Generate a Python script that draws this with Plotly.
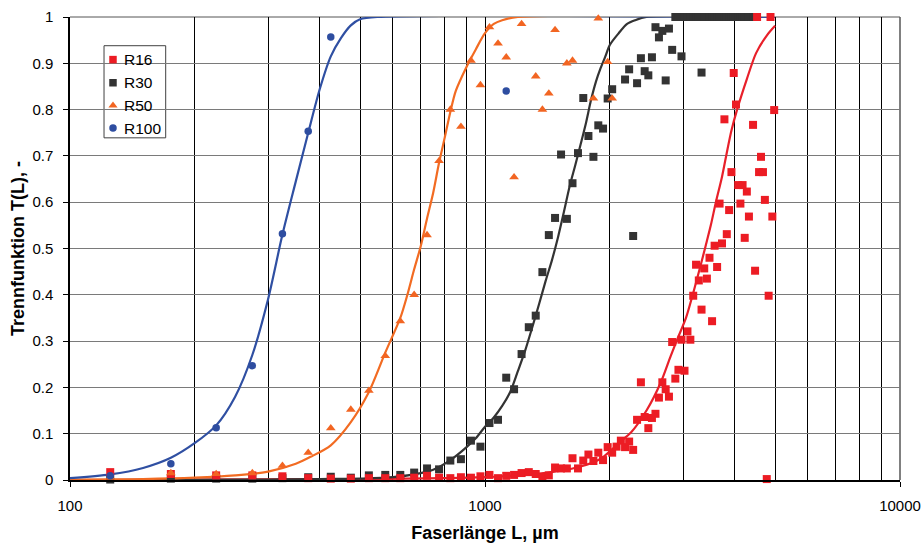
import plotly.graph_objects as go

# ---------------- data (class mid-lengths in µm, separation function T) -------------
r16_L = [125, 175, 225, 275, 325, 375, 425, 475, 525, 575, 625, 675, 725, 775, 825, 875, 925, 975,
         1025, 1075, 1125, 1175, 1225, 1275, 1325, 1375, 1425, 1475, 1525, 1575, 1625, 1675, 1725,
         1775, 1825, 1875, 1925, 1975, 2025, 2075, 2125, 2175, 2225, 2275, 2325, 2375, 2425, 2475,
         2525, 2575, 2625, 2675, 2725, 2775, 2825, 2875, 2925, 2975, 3025, 3075, 3125, 3175, 3225,
         3275, 3325, 3375, 3425, 3475, 3525, 3575, 3625, 3675, 3725, 3775, 3825, 3875, 3925, 3975,
         4025, 4075, 4125, 4175, 4225, 4275, 4325, 4425, 4475, 4525, 4575, 4625, 4675, 4725, 4775,
         4825, 4875, 4925, 4975]
r16_T = [0.017, 0.013, 0.010, 0.010, 0.008, 0.004, 0.003, 0.003, 0.004, 0.004, 0.004, 0.005, 0.009,
         0.005, 0.004, 0.006, 0.005, 0.008, 0.011, 0.004, 0.009, 0.011, 0.015, 0.017, 0.013, 0.006,
         0.010, 0.027, 0.025, 0.025, 0.047, 0.025, 0.042, 0.055, 0.041, 0.059, 0.043, 0.071, 0.059,
         0.072, 0.085, 0.071, 0.083, 0.065, 0.130, 0.211, 0.136, 0.112, 0.134, 0.143, 0.178, 0.211,
         0.196, 0.180, 0.298, 0.219, 0.238, 0.303, 0.236, 0.321, 0.303, 0.398, 0.465, 0.431, 0.368,
         0.457, 0.435, 0.480, 0.343, 0.506, 0.460, 0.597, 0.511, 0.779, 0.531, 0.583, 0.665, 0.879,
         0.811, 0.637, 0.597, 0.637, 0.523, 0.623, 0.569, 0.767, 0.452, 1.000, 0.665, 0.698, 0.665,
         0.605, 0.002, 0.398, 1.000, 0.569, 0.799]

r30_L = [125, 175, 225, 275, 325, 375, 425, 475, 525, 575, 625, 675, 725, 775, 825, 875, 925, 975,
         1025, 1075, 1125, 1175, 1225, 1275, 1325, 1375, 1425, 1475, 1525, 1575, 1625, 1675, 1725,
         1775, 1825, 1875, 1925, 1975, 2025, 2175, 2225, 2275, 2325, 2375, 2425, 2475, 2525, 2575,
         2625, 2675, 2725, 2775, 2825, 2875, 2925, 2975, 3025, 3075, 3125, 3175, 3225, 3275, 3325,
         3375, 3425, 3475, 3525, 3575, 3625, 3675, 3725, 3775, 3825, 3875, 3925, 3975, 4025, 4075,
         4125, 4175, 4225, 4275, 4325, 4375, 4425, 4475]
r30_T = [0.001, 0.003, 0.003, 0.003, 0.004, 0.006, 0.007, 0.005, 0.010, 0.011, 0.011, 0.016, 0.025,
         0.023, 0.042, 0.045, 0.085, 0.072, 0.123, 0.130, 0.221, 0.196, 0.272, 0.330, 0.355, 0.449,
         0.529, 0.566, 0.703, 0.564, 0.641, 0.706, 0.825, 0.743, 0.698, 0.766, 0.759, 0.824, 0.844,
         0.865, 0.887, 0.527, 0.857, 0.911, 0.883, 0.874, 0.913, 0.978, 0.956, 0.970, 0.863, 0.975,
         0.929, 1.0, 1.0, 0.915, 1.0, 1.0, 1.0, 1.0, 1.0, 1.0, 0.880,
         1.0, 1.0, 1.0, 1.0, 1.0, 1.0, 1.0, 1.0, 1.0, 1.0, 1.0, 1.0, 1.0, 1.0, 1.0,
         1.0, 1.0, 1.0, 1.0, 1.0, 1.0, 1.0, 1.0]

r50_L = [125, 175, 225, 275, 325, 375, 425, 475, 525, 575, 625, 675, 725, 775, 825, 875, 925, 975,
         1025, 1075, 1125, 1175, 1225, 1325, 1375, 1425, 1475, 1575, 1625, 1825, 1875, 1975, 2025]
r50_T = [0.005, 0.015, 0.013, 0.015, 0.031, 0.059, 0.112, 0.152, 0.193, 0.268, 0.343, 0.400, 0.529,
         0.689, 0.800, 0.763, 0.906, 0.853, 0.978, 0.943, 0.913, 0.654, 0.985, 0.872, 0.800, 0.835,
         0.972, 0.900, 0.906, 0.824, 0.997, 0.903, 0.824]

r100_L = [125, 175, 225, 275, 325, 375, 425, 1125]
r100_T = [0.009, 0.035, 0.113, 0.247, 0.532, 0.753, 0.957, 0.840]

# fitted curves
fit16_L = [100, 500, 800, 1000, 1100, 1300, 1500, 1700, 1900, 2000, 2100, 2250, 2450, 2650, 2800,
           2925, 3050, 3175, 3300, 3400, 3500, 3600, 3725, 3825, 3925, 4050, 4275, 4500, 4775, 5000]
fit16_T = [0.0, 0.002, 0.004, 0.006, 0.008, 0.012, 0.019, 0.029, 0.046, 0.062, 0.080, 0.103, 0.150,
           0.210, 0.267, 0.310, 0.350, 0.404, 0.460, 0.505, 0.550, 0.600, 0.655, 0.707, 0.755, 0.800,
           0.866, 0.922, 0.960, 0.981]

fit30_L = [100, 300, 400, 500, 600, 700, 750, 825, 900, 950, 1000, 1050, 1100, 1150, 1200, 1250,
           1300, 1350, 1400, 1450, 1500, 1550, 1600, 1650, 1700, 1750, 1800, 1850, 1900, 1950, 2000,
           2100, 2200, 2300, 2450, 5000]
fit30_T = [0.0, 0.001, 0.002, 0.003, 0.006, 0.015, 0.022, 0.043, 0.070, 0.090, 0.115, 0.135, 0.160,
           0.190, 0.235, 0.280, 0.330, 0.380, 0.430, 0.475, 0.525, 0.580, 0.635, 0.680, 0.725, 0.770,
           0.820, 0.860, 0.890, 0.915, 0.940, 0.965, 0.985, 0.993, 1.0, 1.0]

fit50_L = [100, 150, 200, 250, 300, 350, 380, 425, 475, 525, 575, 625, 650, 675, 700, 725, 750, 775,
           800, 825, 850, 900, 950, 1000, 1050, 1100, 1200, 5000]
fit50_T = [0.001, 0.002, 0.005, 0.010, 0.018, 0.035, 0.050, 0.075, 0.125, 0.190, 0.275, 0.350, 0.400,
           0.455, 0.505, 0.565, 0.620, 0.685, 0.740, 0.795, 0.840, 0.890, 0.930, 0.965, 0.985, 0.993,
           1.0, 1.0]

fit100_L = [100, 125, 150, 175, 200, 225, 250, 275, 300, 325, 350, 375, 400, 425, 450, 475, 500, 550,
            5000]
fit100_T = [0.004, 0.012, 0.026, 0.048, 0.080, 0.118, 0.180, 0.270, 0.390, 0.530, 0.645, 0.750,
            0.845, 0.915, 0.955, 0.982, 0.995, 1.0, 1.0]

names = ["R16", "R30", "R50", "R100"]
colors = ["#EC1C24", "#333333", "#F26522", "#2E4DA0"]
line_colors = ["#E8202A", "#333333", "#F26B22", "#2F4FA2"]
symbols = ["square", "square", "triangle-up", "circle"]
msizes = [8, 8, 8.5, 7.5]

x_ticks = [100, 1000, 10000]
x_minor = [200, 300, 400, 500, 600, 700, 800, 900, 2000, 3000, 4000, 5000, 6000, 7000, 8000, 9000]
y_ticks = [0, 0.1, 0.2, 0.3, 0.4, 0.5, 0.6, 0.7, 0.8, 0.9, 1.0]
y_ticktext = ["0", "0.1", "0.2", "0.3", "0.4", "0.5", "0.6", "0.7", "0.8", "0.9", "1"]

FONT = "Liberation Sans, Arial, sans-serif"

fig = go.Figure()

fits = [(fit16_L, fit16_T), (fit30_L, fit30_T), (fit50_L, fit50_T), (fit100_L, fit100_T)]
for (fl, ft), lc in zip(fits, line_colors):
    fig.add_trace(go.Scatter(x=fl, y=ft, mode="lines",
                             line=dict(color=lc, width=2.2, shape="spline", smoothing=0.8),
                             showlegend=False, hoverinfo="skip", cliponaxis=False))

series = [(r30_L, r30_T, 1), (r16_L, r16_T, 0), (r50_L, r50_T, 2), (r100_L, r100_T, 3)]
for L, T, i in series:
    fig.add_trace(go.Scatter(x=L, y=T, mode="markers", name=names[i], showlegend=False,
                             marker=dict(symbol=symbols[i], size=msizes[i], color=colors[i],
                                         line=dict(width=0)),
                             cliponaxis=False))

# ---- manual legend (box, markers on overlay axes, text annotations) ----
leg_rows = [0.908, 0.858, 0.809, 0.760]
for i in range(4):
    fig.add_trace(go.Scatter(x=[0.0518], y=[leg_rows[i]], mode="markers", xaxis="x2", yaxis="y2",
                             showlegend=False, hoverinfo="skip",
                             marker=dict(symbol=symbols[i], size=7.5 if i != 2 else 8,
                                         color=colors[i], line=dict(width=0))))
    fig.add_annotation(x=0.0627, y=leg_rows[i], xref="paper", yref="paper", text=names[i],
                       showarrow=False, xanchor="left", yanchor="middle",
                       font=dict(family=FONT, size=15.5, color="black"))
fig.add_shape(type="rect", xref="paper", yref="paper", x0=0.041, x1=0.1153, y0=0.739, y1=0.938,
              line=dict(color="#404040", width=1), fillcolor="white", layer="between")

# right border of the plotting area
fig.add_shape(type="line", xref="paper", yref="paper", x0=1, x1=1, y0=0, y1=1,
              line=dict(color="#808080", width=2), layer="between")
fig.add_shape(type="line", xref="paper", yref="paper", x0=0, x1=1, y0=1, y1=1,
              line=dict(color="#555555", width=1), layer="between")

fig.update_layout(
    width=923, height=543,
    margin=dict(l=70, r=23, t=17, b=63, autoexpand=False),
    paper_bgcolor="white", plot_bgcolor="white",
    font=dict(family=FONT, size=15, color="black"),
    xaxis=dict(type="log", range=[2, 4], tickvals=x_ticks, ticktext=["100", "1000", "10000"],
               ticks="outside", ticklen=5, tickcolor="black", tickwidth=1,
               showline=True, linecolor="black", linewidth=1.5,
               showgrid=True, gridcolor="black", gridwidth=1,
               minor=dict(tickvals=x_minor, showgrid=True, gridcolor="black", gridwidth=1, ticks=""),
               tickfont=dict(size=15), ticklabelstandoff=6, automargin=False,
               title=dict(text="Faserlänge L, µm", font=dict(size=18, weight="bold"), standoff=15),
               zeroline=False),
    yaxis=dict(range=[0, 1], tickvals=y_ticks, ticktext=y_ticktext,
               ticks="outside", ticklen=5, tickcolor="black", tickwidth=1,
               showline=True, linecolor="black", linewidth=1.5,
               showgrid=True, gridcolor="#7a7a7a", gridwidth=1.2,
               tickfont=dict(size=15), ticklabelstandoff=7, automargin=False,
               title=dict(text="Trennfunktion T(L), -", font=dict(size=18, weight="bold"), standoff=3),
               zeroline=False),
    xaxis2=dict(overlaying="x", range=[0, 1], visible=False, fixedrange=True),
    yaxis2=dict(overlaying="y", range=[0, 1], visible=False, fixedrange=True),
    showlegend=False,
)

fig.write_html("out.html")
